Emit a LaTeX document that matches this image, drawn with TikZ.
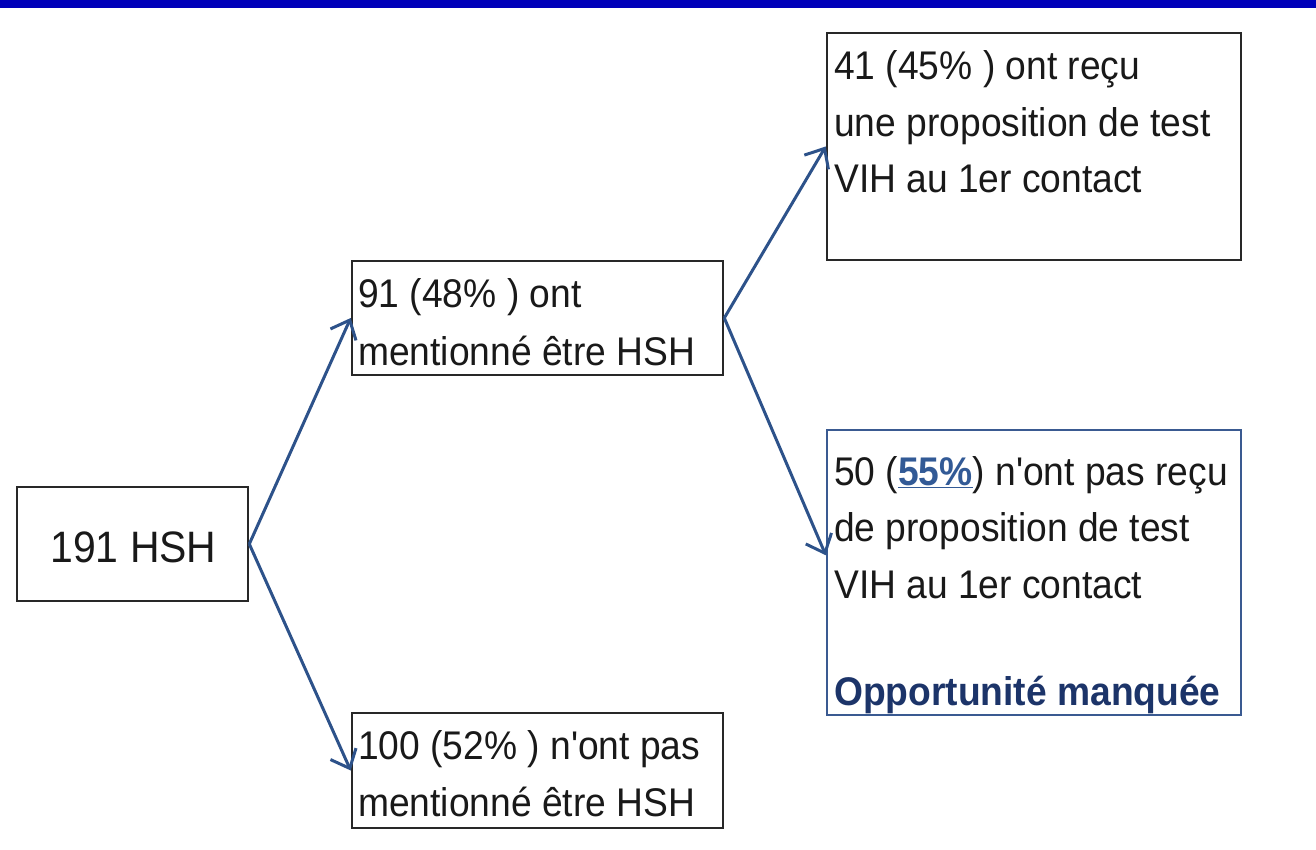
\documentclass[tikz,border=0pt]{standalone}
\usepackage{fontspec}
\setmainfont{Liberation Sans}[FakeStretch=0.93,Ligatures=TeXOff]
\usetikzlibrary{arrows.meta,calc}
\definecolor{barblue}{RGB}{0,0,185}
\definecolor{arrowblue}{RGB}{45,82,138}
\definecolor{boxgray}{RGB}{40,40,40}
\definecolor{eblue}{RGB}{58,90,145}
\definecolor{darkblue}{RGB}{28,52,105}
\definecolor{pctblue}{RGB}{50,90,150}
\definecolor{txt}{RGB}{25,25,25}
\begin{document}
\begin{tikzpicture}[x=1pt,y=-1pt,
  boxbw/.style={draw=boxgray,line width=2.6pt,inner sep=0pt,rectangle},
  boxbl/.style={draw=eblue,line width=2.4pt,inner sep=0pt,rectangle},
  ln/.style={anchor=base west,inner sep=0pt,text=txt,font=\fontsize{40}{56}\selectfont},
  conn/.style={draw=arrowblue,line width=3pt,-{Straight Barb[length=16pt,width=28pt,line width=3pt]}}]
\useasboundingbox (0,0) rectangle (1316,850);
\fill[barblue] (0,0) rectangle (1316,8);
% boxes
\node[boxbw,minimum width=231pt,minimum height=114pt] (A) at (132.5,544) {};
\node[boxbw,minimum width=371pt,minimum height=114pt] (B) at (537.5,318) {};
\node[boxbw,minimum width=371pt,minimum height=115pt] (C) at (537.5,770.5) {};
\node[boxbw,minimum width=414pt,minimum height=227pt] (D) at (1034,146.5) {};
\node[boxbl,minimum width=414pt,minimum height=285pt] (E) at (1034,572.5) {};
% texts
\node[anchor=base,inner sep=0pt,text=txt,font=\fontsize{44}{50}\selectfont] (a1) at (133.5,562) {191 HSH};
\node[ln] (b1) at (358,307) {91 (48\% ) ont};
\node[ln] (b2) at (358,365) {mentionné être HSH};
\node[ln] (c1) at (358,759) {100 (52\% ) n'ont pas};
\node[ln] (c2) at (358,816) {mentionné être HSH};
\node[ln] (d1) at (834,80) {41 (45\% ) ont reçu};
\node[ln] (d2) at (834,137) {une proposition de test};
\node[ln] (d3) at (834,193) {VIH au 1er contact};
\node[ln] (e1) at (834,485) {50 (\textcolor{pctblue}{\underline{\textbf{55\%}}}) n'ont pas reçu};
\node[ln] (e2) at (834,541) {de proposition de test};
\node[ln] (e3) at (834,598) {VIH au 1er contact};
\node[ln,text=darkblue,font=\fontsize{40}{56}\selectfont\bfseries] (e4) at (834,705) {Opportunité manquée};
% connectors
\coordinate (Ein) at ($(E.north west)!0.44!(E.south west)$);
\draw[conn] (A.east) -- (B.west);
\draw[conn] (A.east) -- (C.west);
\draw[conn] (B.east) -- (D.west);
\draw[conn] (B.east) -- (Ein);
\end{tikzpicture}
\end{document}
